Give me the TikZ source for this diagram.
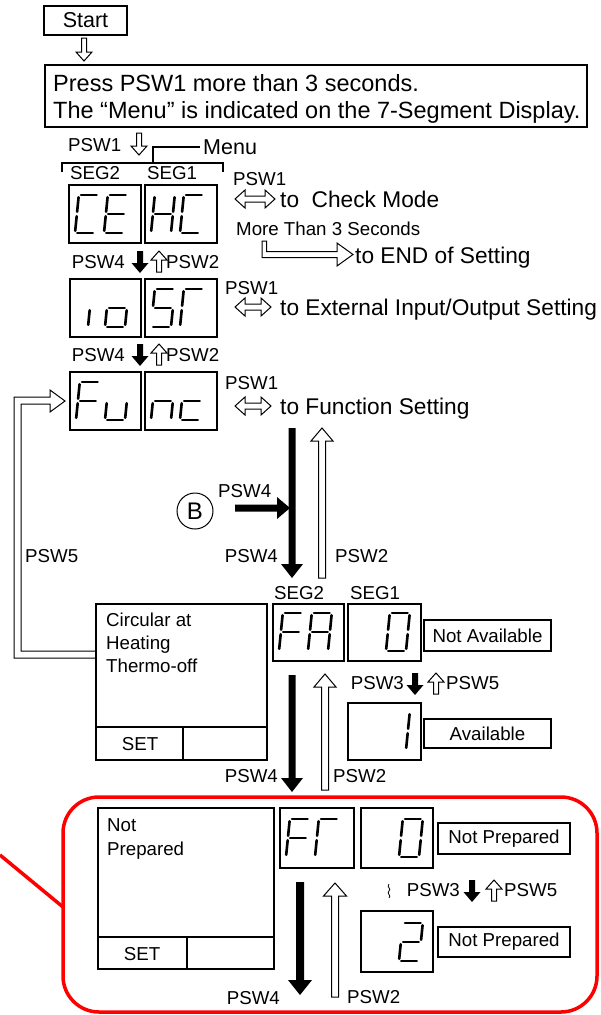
\documentclass[tikz,border=0pt]{standalone}
\usepackage{fontspec}
\setmainfont{Liberation Sans}
\newcommand\sga{\draw[seg] (6.0,-38)--(21.6,-38);}
\newcommand\sgb{\draw[seg] (23.58,-35.8)--(22.12,-21.2);}
\newcommand\sgc{\draw[seg] (21.68,-16.8)--(20.22,-2.2);}
\newcommand\sgd{\draw[seg] (2.2,0)--(17.8,0);}
\newcommand\sge{\draw[seg] (0.22,-2.2)--(1.68,-16.8);}
\newcommand\sgf{\draw[seg] (2.12,-21.2)--(3.58,-35.8);}
\newcommand\sgg{\draw[seg] (4.1,-19)--(19.7,-19);}
\newcommand\dig[3]{\begin{scope}[shift={(#1,#2)}]\foreach \s in {#3}{\csname sg\s\endcsname}\end{scope}}
\newcommand\bx[5]{\node[box,anchor=north west,minimum width={(#4-#2)*1pt},minimum height={(#5-#3)*1pt}] (#1) at (#2,#3) {};}
\newcommand\HUp[6]{\filldraw[harrow] ({#1-#4},#3) -- ({#1+#4},#3) -- ({#1+#4},{#2+#6}) -- ({#1+#5},{#2+#6}) -- (#1,#2) -- ({#1-#5},{#2+#6}) -- ({#1-#4},{#2+#6}) -- cycle;}
\newcommand\HDown[6]{\filldraw[harrow] ({#1-#4},#2) -- ({#1+#4},#2) -- ({#1+#4},{#3-#6}) -- ({#1+#5},{#3-#6}) -- (#1,#3) -- ({#1-#5},{#3-#6}) -- ({#1-#4},{#3-#6}) -- cycle;}
\newcommand\BDown[6]{\fill ({#1-#4},#2) -- ({#1+#4},#2) -- ({#1+#4},{#3-#6}) -- ({#1+#5},{#3-#6}) -- (#1,#3) -- ({#1-#5},{#3-#6}) -- ({#1-#4},{#3-#6}) -- cycle;}
\newcommand\DArr[3]{\filldraw[harrow] (#1,#3) -- ({#1+10},{#3-9}) -- ({#1+10},{#3-3}) -- ({#2-10},{#3-3}) -- ({#2-10},{#3-9}) -- (#2,#3) -- ({#2-10},{#3+9}) -- ({#2-10},{#3+3}) -- ({#1+10},{#3+3}) -- ({#1+10},{#3+9}) -- cycle;}
\begin{document}
\begin{tikzpicture}[x=1pt,y=-1pt,
  seg/.style={line width=2.6pt,line cap=round},
  box/.style={draw,line width=1.2pt,inner sep=0pt,outer sep=0pt},
  harrow/.style={draw,fill=white,line width=1pt,line join=miter},
  lbl/.style={inner sep=0pt,font=\fontsize{18.7}{22}\selectfont},
  big/.style={inner sep=0pt,font=\fontsize{22.7}{26}\selectfont},
  intro/.style={inner sep=0pt,font=\fontsize{23.5}{27}\selectfont}]
\useasboundingbox (0,0) rectangle (601,1015);
\fill[white] (0,0) rectangle (601,1015);

% Start
\node[box,minimum width=83pt,minimum height=29pt,font=\fontsize{21.5}{24}\selectfont] (start) at (85.5,20.5) {Start};
\HDown{84}{38}{61}{2.5}{8}{9}
\bx{intro}{45}{65}{587}{127}
\node[intro,anchor=base west] (l1) at (53,91.5) {Press PSW1 more than 3 seconds.};
\node[intro,anchor=base west] (l2) at (53,118) {The “Menu” is indicated on the 7-Segment Display.};

% Menu
\node[lbl,anchor=base west] (p1a) at (68,151.5) {PSW1};
\HDown{139}{133}{155}{2.5}{8}{9}
\draw[line width=1.2] (62,172) -- (62,163) -- (223,163) -- (223,172);
\draw[line width=1.2] (153,163) -- (153,147) -- (200,147);
\node[inner sep=0pt,font=\fontsize{21.5}{24}\selectfont,anchor=base west] (menu) at (203,154.5) {Menu};
\node[lbl,anchor=base west] (s2a) at (70,179.5) {SEG2};
\node[lbl,anchor=base west] (s1a) at (147,179.5) {SEG1};

% CE HC
\bx{ce}{69}{185}{141}{243}
\bx{hc}{145}{185}{217}{243}
\dig{75}{233}{a,d,e,f}
\dig{104}{233}{a,d,e,f,g}
\dig{151}{233}{b,c,e,f,g}
\dig{180}{233}{a,d,e,f}
\node[lbl,anchor=base west] (p1b) at (233,185.5) {PSW1};
\DArr{235}{275}{199}
\node[big,anchor=base west] (chk) at (280,207) {to\ \ Check Mode};
\node[lbl,anchor=base west] (more) at (236,235.5) {More Than 3 Seconds};
\filldraw[harrow] (262,241) -- (266.5,241) -- (266.5,251.5) -- (337,251.5) -- (337,243) -- (353,254.5) -- (337,266) -- (337,257.5) -- (262,257.5) -- cycle;
\node[big,anchor=base west] (end) at (355,263) {to END of Setting};

% row 1 arrows
\node[lbl,anchor=base east] (p4a) at (125,268.5) {PSW4};
\BDown{140}{251}{273}{3}{8.5}{10}
\HUp{159}{251}{272}{2.5}{8}{9}
\node[lbl,anchor=base west] (p2a) at (166,268.5) {PSW2};

% io SR
\bx{io}{70}{279}{141}{337}
\bx{sr}{145}{279}{217}{337}
\dig{68}{327}{c}
\dig{105}{327}{c,d,e,g}
\dig{151}{327}{a,f,g,c,d}
\dig{180}{327}{a,e,f}
\node[lbl,anchor=base west] (p1c) at (225,294.5) {PSW1};
\DArr{235}{271}{307}
\node[big,anchor=base west] (ext) at (280,315) {to External Input/Output Setting};

% row 2 arrows
\node[lbl,anchor=base east] (p4b) at (125,361.5) {PSW4};
\BDown{140}{344}{366}{3}{8.5}{10}
\HUp{159}{344}{365}{2.5}{8}{9}
\node[lbl,anchor=base west] (p2b) at (166,361.5) {PSW2};

% Func loop
\filldraw[harrow] (96,658) -- (14,658) -- (14,397) -- (50,397) -- (50,390) -- (65,401) -- (50,412) -- (50,404) -- (21,404) -- (21,651) -- (96,651);
\bx{fu}{70}{372}{141}{430}
\bx{nc}{145}{372}{217}{430}
\dig{76}{420}{a,e,f,g}
\dig{105}{420}{c,d,e}
\dig{151}{420}{c,e,g}
\dig{180}{420}{d,e,g}
\node[lbl,anchor=base west] (p1d) at (225,389) {PSW1};
\DArr{235}{271}{406}
\node[big,anchor=base west] (fun) at (280,414) {to Function Setting};

% long arrows 1
\BDown{292}{428}{578}{3.5}{11}{14}
\HUp{322}{428}{578}{3.5}{11}{13}
\node[draw,circle,line width=1pt,minimum size=36pt,inner sep=0pt,font=\fontsize{24}{28}\selectfont] (b) at (195,511) {B};
\node[lbl,anchor=base west] (p4c) at (218,497) {PSW4};
\fill (235,504.5) -- (277,504.5) -- (277,497) -- (290,508) -- (277,519) -- (277,511.5) -- (235,511.5) -- cycle;
\node[lbl,anchor=base east] (p4d) at (278,562.5) {PSW4};
\node[lbl,anchor=base west] (p2c) at (335,562.5) {PSW2};
\node[lbl,anchor=base west] (p5a) at (25,562.5) {PSW5};
\node[lbl,anchor=base west] (s2b) at (274,599.5) {SEG2};
\node[lbl,anchor=base west] (s1b) at (350,599.5) {SEG1};

% Circular box
\bx{circ}{96}{604}{267}{760}
\draw[line width=1.2] (96,727) -- (267,727) (183,727) -- (183,760);
\node[lbl,anchor=base west] (c1) at (106,626.5) {Circular at};
\node[lbl,anchor=base west] (c2) at (106,649.5) {Heating};
\node[lbl,anchor=base west] (c3) at (106,672.5) {Thermo-off};
\node[lbl] (set1) at (140,744) {SET};

% FA 0
\bx{fa}{273}{604}{344}{661}
\bx{za}{348}{604}{421}{661}
\dig{279}{651}{a,e,f,g}
\dig{308}{651}{a,b,c,e,f,g}
\dig{386}{651}{a,b,c,d,e,f}
\node[box,lbl,minimum width=127pt,minimum height=31pt] (na) at (487.5,635.5) {Not Available};
\node[lbl,anchor=base east] (p3a) at (404,689.5) {PSW3};
\BDown{415}{673}{695}{3}{8.5}{10}
\HUp{436}{673}{694}{2.5}{8}{9}
\node[lbl,anchor=base west] (p5b) at (446,689.5) {PSW5};
\bx{one}{348}{703}{421}{760}
\dig{386}{750}{b,c}
\node[box,lbl,minimum width=127pt,minimum height=29pt] (av) at (487.5,733.5) {Available};

% long arrows 2
\BDown{292}{675}{792}{3.5}{11}{14}
\HUp{325}{674}{790}{3.5}{11}{13}
\node[lbl,anchor=base east] (p4e) at (278,782) {PSW4};
\node[lbl,anchor=base west] (p2d) at (333,782) {PSW2};

% red frame
\draw[red,line width=3.5] (0,855) -- (63,907);
\draw[red,line width=3.5,rounded corners=36] (63,797) rectangle (597,1012);

% Not prepared
\bx{np}{98}{808}{274}{969}
\draw[line width=1.2] (98,937) -- (274,937) (187,937) -- (187,969);
\node[lbl,anchor=base west] (n1) at (107,831.5) {Not};
\node[lbl,anchor=base west] (n2) at (107,855.5) {Prepared};
\node[lbl] (set2) at (142,954) {SET};
\bx{fr}{280}{808}{354}{868}
\bx{zb}{361}{808}{433}{868}
\dig{286}{857}{a,e,f,g}
\dig{315}{857}{a,e,f}
\dig{399}{857}{a,b,c,d,e,f}
\node[box,lbl,minimum width=132pt,minimum height=31pt] (npa) at (504,838.5) {Not Prepared};
\draw[line width=0.8] (389,884) .. controls (386,887) and (392,889) .. (389,891) .. controls (386,893) and (392,896) .. (389,898);
\node[lbl,anchor=base east] (p3b) at (460,896.5) {PSW3};
\BDown{472}{880}{902}{3}{8.5}{10}
\HUp{494}{880}{901}{2.5}{8}{9}
\node[lbl,anchor=base west] (p5c) at (504,896.5) {PSW5};
\bx{two}{361}{911}{433}{972}
\dig{399}{961}{a,b,g,e,d}
\node[box,lbl,minimum width=132pt,minimum height=30pt] (npb) at (504,942) {Not Prepared};

% long arrows 3
\BDown{300}{882}{995}{4}{12}{15}
\HUp{335}{883}{997}{3.5}{11.5}{13}
\node[lbl,anchor=base east] (p4f) at (280,1004.5) {PSW4};
\node[lbl,anchor=base west] (p2e) at (347,1003.5) {PSW2};
\end{tikzpicture}
\end{document}
